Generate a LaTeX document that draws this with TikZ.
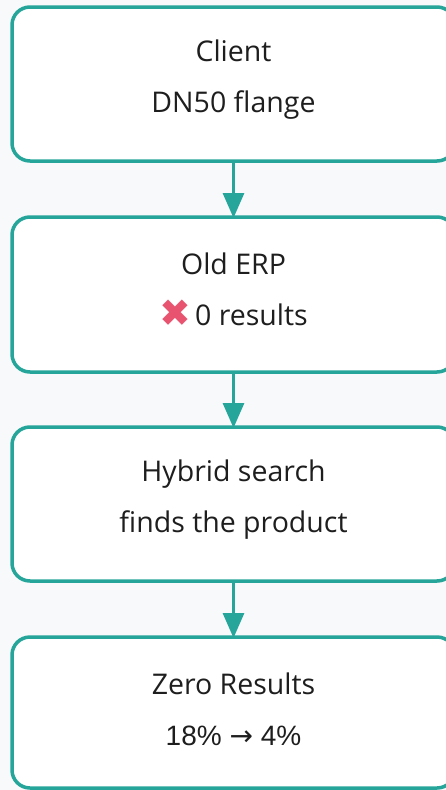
\documentclass[tikz,border=0pt]{standalone}
\usepackage{fontspec}
\setmainfont{Open Sans}
\newfontfamily\symfont{DejaVu Sans}
\newfontfamily\numfont{Liberation Sans}
\usetikzlibrary{arrows.meta}
\definecolor{tealline}{RGB}{38,166,154}
\definecolor{pagebg}{RGB}{247,249,250}
\definecolor{crossred}{RGB}{232,84,112}
\definecolor{textdark}{RGB}{30,30,30}
\tikzset{
  stage/.style={draw=tealline, line width=3.5pt, fill=white, rounded corners=18pt},
  label/.style={align=center, text=textdark, font=\fontsize{28.5}{51}\selectfont},
  flow/.style={draw=tealline, line width=3pt, -{Triangle[length=25pt,width=21pt]}, shorten >=-1pt}
}
\begin{document}
\begin{tikzpicture}[x=1pt, y=-1pt]
  \fill[pagebg] (0,0) rectangle (446,790);
  \useasboundingbox (0,0) rectangle (446,790);
  \begin{scope}
    \clip (0,0) rectangle (446,790);
    % the four stage boxes (right side runs past the page edge)
    \path[stage] (12,7) rectangle (455,161);
    \path[stage] (12,217) rectangle (455,372);
    \path[stage] (12,427) rectangle (455,581);
    \path[stage] (12,637) rectangle (455,788);
  \end{scope}
  % anchors for connectors
  \coordinate (b1) at (233.5,161);
  \coordinate (t2) at (233.5,217);
  \coordinate (b2) at (233.5,372);
  \coordinate (t3) at (233.5,427);
  \coordinate (b3) at (233.5,581);
  \coordinate (t4) at (233.5,637);
  % texts
  \node[label] (client) at (233.5,80) {Client\\DN50 flange};
  \node[label] (erp) at (233.5,290) {Old ERP\\\raisebox{-1pt}{\smash{\color{crossred}\symfont\fontsize{38}{50}\selectfont ✖}}\hspace{4pt}0 results};
  \node[label] (hybrid) at (233.5,500) {Hybrid search\\finds the product};
  \node[label] (zero) at (233.5,709) {Zero Results\\{\numfont\fontsize{28}{51}\selectfont 18\% {\symfont →} 4\%}};
  % connectors
  \draw[flow] (b1) -- (t2);
  \draw[flow] (b2) -- (t3);
  \draw[flow] (b3) -- (t4);
\end{tikzpicture}
\end{document}
